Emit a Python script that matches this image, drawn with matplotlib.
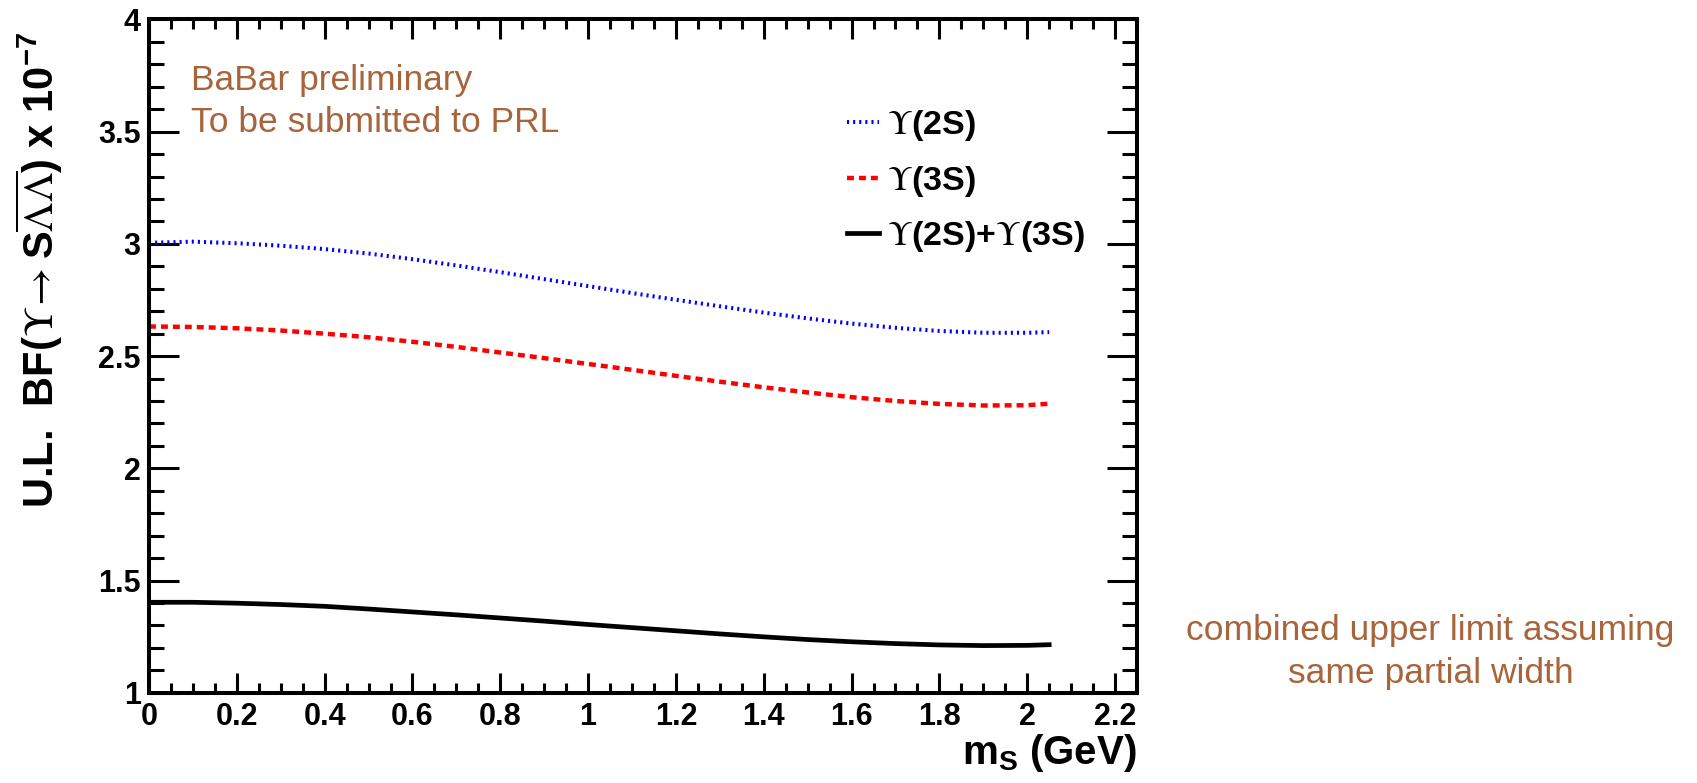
import matplotlib
matplotlib.use("Agg")
from matplotlib import pyplot as plt
from matplotlib.ticker import MultipleLocator, FuncFormatter

plt.rcParams['font.family'] = ['Liberation Sans', 'DejaVu Sans']
plt.rcParams['mathtext.fontset'] = 'custom'
plt.rcParams['mathtext.rm'] = 'STIXGeneral'
plt.rcParams['mathtext.bf'] = 'Liberation Sans:bold'
plt.rcParams['lines.scale_dashes'] = False

# upper limits (x 1e-7) vs m_S (GeV)
m_s = [0.0, 0.1, 0.2, 0.3, 0.4, 0.5, 0.6, 0.7, 0.8, 0.9, 1.0,
       1.1, 1.2, 1.3, 1.4, 1.5, 1.6, 1.7, 1.8, 1.9, 2.0, 2.05]
ul_2s = [3.005, 3.010, 3.003, 2.992, 2.977, 2.957, 2.932, 2.904, 2.874, 2.843, 2.812,
         2.781, 2.751, 2.722, 2.694, 2.668, 2.645, 2.626, 2.612, 2.604, 2.604, 2.607]
ul_3s = [2.632, 2.630, 2.624, 2.614, 2.600, 2.584, 2.564, 2.541, 2.516, 2.491, 2.465,
         2.439, 2.412, 2.386, 2.361, 2.338, 2.317, 2.300, 2.287, 2.280, 2.281, 2.288]
ul_comb = [1.403, 1.403, 1.399, 1.393, 1.385, 1.373, 1.360, 1.347, 1.333, 1.319, 1.304,
           1.290, 1.276, 1.262, 1.249, 1.237, 1.227, 1.219, 1.213, 1.210, 1.211, 1.214]

labels = [r"$\Upsilon$(2S)", r"$\Upsilon$(3S)", r"$\Upsilon$(2S)+$\Upsilon$(3S)"]
brown = '#a8643a'

fig = plt.figure(figsize=(16.97, 7.83), dpi=100)
ax = fig.add_axes([0.0878, 0.1153, 0.5822, 0.8598])

l1, = ax.plot(m_s, ul_2s, color='#0000ff', lw=2.9, dashes=(1.5, 2.9), dash_capstyle='butt', label=labels[0])
l2, = ax.plot(m_s, ul_3s, color='#ff0000', lw=3.2, dashes=(5.0, 3.6), dash_capstyle='butt', label=labels[1])
l3, = ax.plot(m_s, ul_comb, color='black', lw=3.4, label=labels[2])

ax.set_xlim(0, 2.25)
ax.set_ylim(1, 4)
ax.xaxis.set_major_locator(MultipleLocator(0.2))
ax.xaxis.set_minor_locator(MultipleLocator(0.05))
ax.yaxis.set_major_locator(MultipleLocator(0.5))
ax.yaxis.set_minor_locator(MultipleLocator(0.1))
fmt = FuncFormatter(lambda v, p: '%g' % round(v, 3))
ax.xaxis.set_major_formatter(fmt)
ax.yaxis.set_major_formatter(fmt)

for s in ax.spines.values():
    s.set_linewidth(2.9)
ax.tick_params(axis='both', which='both', direction='in', top=True, right=True, width=2.2)
ax.tick_params(axis='x', which='major', length=14.4, pad=7)
ax.tick_params(axis='x', which='minor', length=7.2)
ax.tick_params(axis='y', which='major', length=21.6, pad=6)
ax.tick_params(axis='y', which='minor', length=10.8)
for t in ax.get_xticklabels() + ax.get_yticklabels():
    t.set_fontsize(22)
    t.set_fontweight('bold')

fig.text(0.670, 0.024, r"m$_{\mathbf{S}}$ (GeV)", ha='right', va='baseline', fontsize=29, fontweight='bold')
fig.text(0.023, 0.959, r"U.L.  BF($\Upsilon\!\rightarrow$S$\overline{\Lambda\Lambda}$) x 10$^{\mathbf{-7}}$",
         rotation=90, ha='center', va='top', fontsize=30, fontweight='bold')

ax.text(0.043, 0.895, "BaBar preliminary", transform=ax.transAxes, color=brown, fontsize=25.5, va='baseline')
ax.text(0.043, 0.833, "To be submitted to PRL", transform=ax.transAxes, color=brown, fontsize=25.5, va='baseline')

fig.text(0.843, 1 - 640 / 783, "combined upper limit assuming", color=brown, fontsize=25.5, ha='center', va='baseline')
fig.text(0.843, 1 - 683 / 783, "same partial width", color=brown, fontsize=25.5, ha='center', va='baseline')

leg = ax.legend(handles=[l1, l2, l3], loc='upper left', bbox_to_anchor=(0.7065, 0.868), frameon=False,
                prop={'weight': 'bold', 'size': 24.5}, handlelength=0.95, handletextpad=0.22,
                labelspacing=0.6, borderpad=0, borderaxespad=0)

fig.savefig("out.png", dpi=100)
